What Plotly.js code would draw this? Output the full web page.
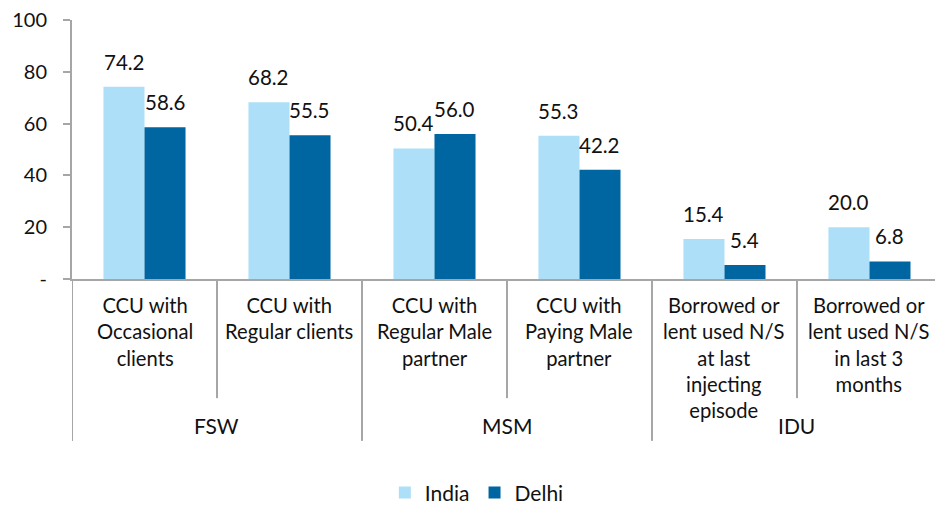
<!DOCTYPE html>
<html>
<head>
<meta charset="utf-8">
<script src="https://cdn.plot.ly/plotly-3.0.1.min.js"></script>
<style>
  html, body { margin: 0; padding: 0; background: #fff; }
  #chart { width: 935px; height: 507px; }
</style>
</head>
<body>
<div id="chart"></div>
<script>
// values
const CATEGORIES = [
  'CCU with<br>Occasional<br>clients',
  'CCU with<br>Regular clients',
  'CCU with<br>Regular Male<br>partner',
  'CCU with<br>Paying Male<br>partner',
  'Borrowed or<br>lent used N/S<br>at last<br>injecting<br>episode',
  'Borrowed or<br>lent used N/S<br>in last 3<br>months'
];
const GROUPS = ['FSW', 'MSM', 'IDU'];
const GROUP_SIZE = 2;
const INDIA = [74.2, 68.2, 50.4, 55.3, 15.4, 20.0];
const DELHI = [58.6, 55.5, 56.0, 42.2, 5.4, 6.8];
const Y_TICKS = [0, 20, 40, 60, 80, 100];
const Y_TICK_TEXT = ['-', '20', '40', '60', '80', '100'];

const FONT = 'Lato, "Open Sans", sans-serif';
const TEXT = '#111';
const AXIS = '#a6a6a6';
const C_INDIA = '#addff9';
const C_DELHI = '#0066a1';

const idx = CATEGORIES.map((_, i) => i);

const traces = [
  { type: 'bar', name: 'India', x: idx, y: INDIA, marker: { color: C_INDIA }, hoverinfo: 'skip' },
  { type: 'bar', name: 'Delhi', x: idx, y: DELHI, marker: { color: C_DELHI }, hoverinfo: 'skip' }
];

const annotations = [];
// value labels above bars
[[INDIA, -20.5], [DELHI, 20.5]].forEach(([vals, dx]) => {
  vals.forEach((v, i) => annotations.push({
    x: i, y: v, xref: 'x', yref: 'y', text: v.toFixed(1), showarrow: false,
    xanchor: 'center', yanchor: 'bottom', xshift: dx, yshift: 11,
    font: { family: FONT, size: 20.5, color: TEXT }
  }));
});
// category labels
CATEGORIES.forEach((c, i) => annotations.push({
  x: i, y: -0.045, xref: 'x', yref: 'paper', text: c, showarrow: false,
  xanchor: 'center', yanchor: 'top', align: 'center',
  font: { family: FONT, size: 20.2, color: TEXT }
}));
// group labels
GROUPS.forEach((g, k) => annotations.push({
  x: k * GROUP_SIZE + (GROUP_SIZE - 1) / 2, y: -0.565, xref: 'x', yref: 'paper',
  text: g, showarrow: false, xanchor: 'center', yanchor: 'middle',
  font: { family: FONT, size: 21, color: TEXT }
}));

// separators below the x axis
const shapes = [];
for (let k = 0; k < CATEGORIES.length; k++) {
  const isGroup = k % GROUP_SIZE === 0;
  shapes.push({
    type: 'line', xref: 'x', yref: 'paper', x0: k - 0.5, x1: k - 0.5,
    y0: 0, y1: isGroup ? -0.625 : -0.46,
    line: { color: AXIS, width: 2 }
  });
}

const layout = {
  width: 935, height: 507,
  margin: { l: 72, r: 0, t: 20, b: 228, autoexpand: false },
  paper_bgcolor: '#fff', plot_bgcolor: '#fff',
  font: { family: FONT, size: 20, color: TEXT },
  barmode: 'group', bargap: 0.434, bargroupgap: 0,
  xaxis: {
    range: [-0.5, 5.452], showticklabels: false, ticks: '',
    showline: true, linecolor: AXIS, linewidth: 2, showgrid: false, zeroline: false,
    fixedrange: true
  },
  yaxis: {
    range: [0, 100], tickvals: Y_TICKS, ticktext: Y_TICK_TEXT,
    ticks: 'outside', ticklen: 7, tickwidth: 2, tickcolor: AXIS,
    showline: true, linecolor: AXIS, linewidth: 2, showgrid: false, zeroline: false,
    ticklabelstandoff: 12,
    tickfont: { family: FONT, size: 20, color: TEXT }
  },
  showlegend: true,
  legend: {
    orientation: 'h', x: 0.51, xanchor: 'center', xref: 'container',
    y: 0.028, yanchor: 'middle', yref: 'container',
    font: { family: FONT, size: 21, color: TEXT }, itemwidth: 30, tracegroupgap: 0
  },
  annotations, shapes
};

Plotly.newPlot('chart', traces, layout, { displayModeBar: false, staticPlot: true });
</script>
</body>
</html>
